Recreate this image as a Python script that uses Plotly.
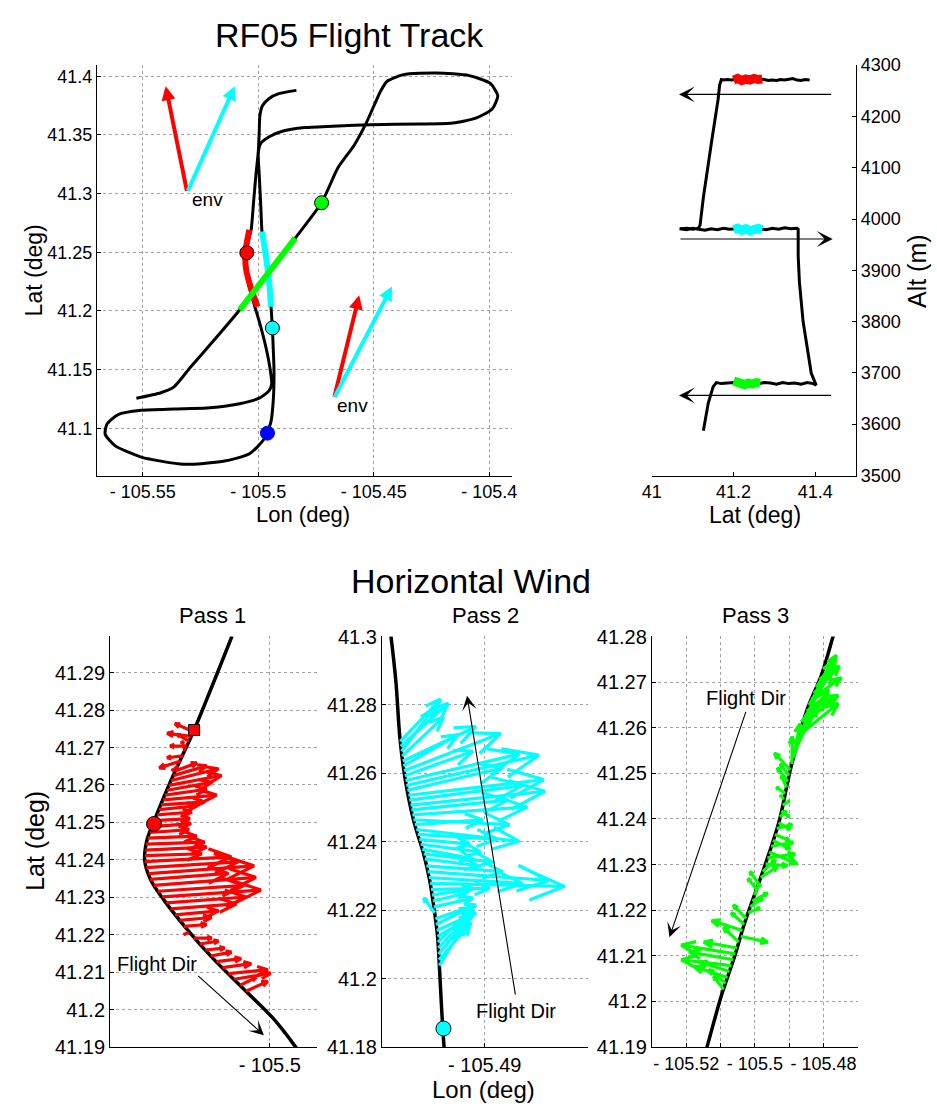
import numpy as np
import plotly.graph_objects as go
import plotly.figure_factory as ff

FONT = "Liberation Sans, Arial, Helvetica, sans-serif"
W, H = 937, 1115

# ---------------- flight track (map) ----------------
track_lon = [-105.4835, -105.4911, -105.4953, -105.4982, -105.4993, -105.4996, -105.5000, -105.5010, -105.5020,
             -105.5031, -105.5046, -105.5053, -105.5053, -105.5041, -105.5017, -105.4996, -105.4970, -105.4950,
             -105.4942, -105.4953, -105.4996, -105.5081, -105.5223, -105.5365, -105.5507, -105.5607, -105.5656,
             -105.5663, -105.5621, -105.5507, -105.5323, -105.5152, -105.5038, -105.4975, -105.4946, -105.4935,
             -105.4932, -105.4936, -105.4939, -105.4945, -105.4953, -105.4967, -105.4984, -105.4989, -105.4996,
             -105.5000, -105.4989, -105.4953, -105.4896, -105.4797, -105.4655, -105.4513, -105.4300, -105.4158,
             -105.4058, -105.3987, -105.3963, -105.3995, -105.4087, -105.4229, -105.4371, -105.4442, -105.4470,
             -105.4499, -105.4534, -105.4584, -105.4655, -105.4726, -105.4840, -105.4960, -105.5081, -105.5195,
             -105.5294, -105.5365, -105.5422, -105.5528]
track_lat = [41.3880, 41.3852, 41.3811, 41.3749, 41.3666, 41.3526, 41.3359, 41.3164, 41.2941, 41.2691, 41.2579,
             41.2496, 41.2356, 41.2217, 41.2050, 41.1911, 41.1716, 41.1520, 41.1381, 41.1320, 41.1256, 41.1209,
             41.1172, 41.1164, 41.1153, 41.1117, 41.1033, 41.0949, 41.0852, 41.0754, 41.0693, 41.0718, 41.0782,
             41.0908, 41.1047, 41.1242, 41.1493, 41.1716, 41.1855, 41.2036, 41.2245, 41.2468, 41.2677, 41.2886,
             41.3164, 41.3345, 41.3429, 41.3485, 41.3532, 41.3563, 41.3577, 41.3588, 41.3593, 41.3602, 41.3643,
             41.3721, 41.3833, 41.3939, 41.4006, 41.4028, 41.4014, 41.3958, 41.3875, 41.3749, 41.3596, 41.3415,
             41.3220, 41.2922, 41.2621, 41.2315, 41.2008, 41.1743, 41.1520, 41.1353, 41.1303, 41.1256]

seg_red_lon = [-105.5039, -105.5050, -105.5056, -105.5053, -105.5031, -105.5003]
seg_red_lat = [41.2691, 41.2579, 41.2496, 41.2356, 41.2189, 41.2036]
seg_cyan_lon = [-105.4984, -105.4967, -105.4953, -105.4945]
seg_cyan_lat = [41.2677, 41.2468, 41.2245, 41.2036]
seg_green_lon = [-105.4840, -105.4960, -105.5081]
seg_green_lat = [41.2621, 41.2315, 41.2008]

dot_lon = [-105.50497, -105.49389, -105.47259, -105.49602]
dot_lat = [41.2496, 41.18552, 41.2922, 41.09582]
dot_col = ["#FF0000", "#00FFFF", "#00FF00", "#0000FF"]

env_tail_lon = [-105.5308, -105.4672]
env_tail_lat = [41.3011, 41.1256]
env_red_lon = [-105.5401, -105.4563]
env_red_lat = [41.3916, 41.2133]
env_cyan_lon = [-105.5102, -105.4421]
env_cyan_lat = [41.3916, 41.2209]
env_text_lon = [-105.5297, -105.4669]
env_text_lat = [41.2947, 41.1195]

# ---------------- altitude profile ----------------
alt_lat = [41.386, 41.375, 41.365, 41.355, 41.345, 41.335, 41.325, 41.315, 41.305, 41.295, 41.285, 41.275, 41.265,
           41.255, 41.245, 41.235, 41.225, 41.215, 41.205, 41.195, 41.185, 41.175, 41.170,
           41.166, 41.162, 41.146, 41.132, 41.126, 41.118, 41.114,
           41.100, 41.085, 41.068,
           41.085, 41.100, 41.115, 41.130, 41.145, 41.160, 41.175, 41.190, 41.205, 41.220, 41.235, 41.250, 41.265,
           41.280, 41.295, 41.310, 41.325, 41.340, 41.355, 41.358,
           41.358, 41.361, 41.370, 41.382, 41.390, 41.402,
           41.395, 41.380, 41.365, 41.350, 41.335, 41.320, 41.305, 41.290, 41.275, 41.260, 41.245, 41.230, 41.215,
           41.200, 41.185, 41.170, 41.158,
           41.150, 41.138, 41.130, 41.126]
alt_m = [4271, 4272, 4270, 4271, 4274, 4273, 4271, 4272, 4270, 4271, 4270, 4272, 4273, 4272, 4274, 4272, 4273, 4271,
         4272, 4271, 4272, 4271, 4272,
         4262, 4233, 4150, 4074, 4042, 3988, 3982,
         3980, 3982, 3981,
         3979, 3982, 3980, 3978, 3981, 3979, 3982, 3980, 3981, 3979, 3982, 3980, 3981, 3979, 3982, 3980, 3983, 3981,
         3982, 3980,
         3928, 3877, 3800, 3737, 3699, 3676,
         3679, 3681, 3678, 3680, 3679, 3681, 3678, 3680, 3681, 3679, 3680, 3682, 3679, 3681, 3680, 3679, 3681,
         3673, 3641, 3609, 3587]
alt_pass_lat = [41.200, 41.210, 41.220, 41.230, 41.240, 41.250, 41.260, 41.270]
alt_red = [4271, 4274, 4270, 4273, 4271, 4274, 4272, 4273]
alt_cyan = [3979, 3982, 3978, 3981, 3977, 3980, 3982, 3979]
alt_green_lat = [41.200, 41.209, 41.218, 41.227, 41.236, 41.245, 41.255, 41.265]
alt_green = [3684, 3682, 3679, 3677, 3680, 3678, 3681, 3680]
alt_dir_alt = [4243, 3961, 3656]
alt_dir_from = [41.4424, 41.0664, 41.4424]
alt_dir_to = [41.0664, 41.4424, 41.0664]

# ---------------- pass 1 ----------------
p1_track_lon = [-105.50162, -105.50325, -105.50370, -105.50427, -105.50497, -105.50528, -105.50537, -105.50511,
                -105.50455, -105.50356, -105.50243, -105.50102, -105.49989, -105.49932, -105.49890, -105.49870]
p1_track_lat = [41.2998, 41.2747, 41.2686, 41.2608, 41.2503, 41.2451, 41.2398, 41.2346, 41.2293, 41.2215,
                41.2136, 41.2049, 41.1979, 41.1936, 41.1901, 41.1885]
p1_lat = [41.2743, 41.2730, 41.2717, 41.2704, 41.2691, 41.2678, 41.2664, 41.2651, 41.2638, 41.2625, 41.2612,
          41.2599, 41.2586, 41.2573, 41.2560, 41.2547, 41.2534, 41.2520, 41.2505, 41.2489, 41.2473, 41.2458,
          41.2442, 41.2426, 41.2411, 41.2395, 41.2379, 41.2363, 41.2348, 41.2332, 41.2316, 41.2301, 41.2285,
          41.2269, 41.2253, 41.2238, 41.2222, 41.2206, 41.2191, 41.2175, 41.2159, 41.2143, 41.2128, 41.2112,
          41.2096, 41.2081, 41.2065, 41.2049]
p1_lon = [-105.50330, -105.50339, -105.50347, -105.50356, -105.50364, -105.50373, -105.50383, -105.50394,
          -105.50404, -105.50414, -105.50424, -105.50433, -105.50441, -105.50450, -105.50458, -105.50467,
          -105.50475, -105.50484, -105.50494, -105.50504, -105.50514, -105.50525, -105.50532, -105.50534,
          -105.50536, -105.50537, -105.50530, -105.50521, -105.50514, -105.50498, -105.50480, -105.50462,
          -105.50445, -105.50426, -105.50407, -105.50388, -105.50369, -105.50347, -105.50326, -105.50301,
          -105.50277, -105.50254, -105.50229, -105.50203, -105.50178, -105.50153, -105.50127, -105.50102]
p1_u = [-0.000771, -0.001017, -0.000508, -0.000720, -0.000127, -0.000678, -0.000915, -0.000254, 0.000907, 0.001432,
        0.002034, 0.002254, 0.001915, 0.001788, 0.002296, 0.001873, 0.001619, 0.001491, 0.001508, 0.001652,
        0.001669, 0.002110, 0.002521, 0.002627, 0.002436, 0.003716, 0.003940, 0.004534, 0.003360, 0.004385,
        0.003699, 0.004237, 0.003432, 0.002818, 0.001864, 0.001377, 0.000975, -0.000212, 0.000763, 0.000805,
        0.000822, 0.000890, 0.001059, 0.001229, 0.001695, 0.001568, 0.000678, 0.000932]
p1_v = [0.00209, 0.00079, 0.00183, 0.0, 0.00262, -0.00052, -0.00183, -0.00131, 0.00209, 0.00262, 0.00314, 0.00262,
        0.00209, 0.00157, 0.00131, 0.00079, 0.00105, 0.00079, 0.00052, 0.00079, 0.00079, 0.00052, 0.00052, 0.00079,
        0.00052, 0.00131, 0.00157, 0.00209, 0.00157, 0.00209, 0.00157, 0.00183, 0.00157, 0.00131, 0.00105, 0.00079,
        0.00052, -0.00052, 0.0, 0.00079, 0.00052, 0.00105, 0.00079, 0.00105, 0.00105, 0.00157, 0.00209, 0.00262]
p1_circle = (-105.50497, 41.2496)
p1_square = (-105.50325, 41.2747)
p1_dir = dict(tail=(-105.50314, 41.20937), head=(-105.50025, 41.19314), text=(-105.50483, 41.21225))

# ---------------- pass 2 ----------------
p2_track_lon = [-105.49885, -105.49839, -105.49799, -105.49746, -105.49669, -105.49576, -105.49520, -105.49477,
                -105.49446, -105.49427, -105.49406, -105.49384, -105.49380]
p2_track_lat = [41.30009, 41.28703, 41.26984, 41.25741, 41.24596, 41.23642, 41.22877, 41.22018, 41.21256,
                41.20300, 41.19060, 41.18009, 41.1790]
p2_lat = [41.26936, 41.26792, 41.26649, 41.26506, 41.26363, 41.26220, 41.26076, 41.25933, 41.25790, 41.25647,
          41.25504, 41.25360, 41.25217, 41.25074, 41.24931, 41.24788, 41.24644, 41.24501, 41.24358, 41.24215,
          41.24072, 41.23928, 41.23785, 41.23642, 41.23499, 41.23298, 41.23127, 41.22955, 41.22783, 41.22611,
          41.22439, 41.22267, 41.22096, 41.21924, 41.21752, 41.21580, 41.21408, 41.21236, 41.21064, 41.20893,
          41.20721, 41.20549, 41.20377]
p2_lon = [-105.49797, -105.49792, -105.49785, -105.49779, -105.49773, -105.49767, -105.49762, -105.49754,
          -105.49748, -105.49740, -105.49730, -105.49721, -105.49712, -105.49701, -105.49692, -105.49683,
          -105.49673, -105.49661, -105.49646, -105.49632, -105.49618, -105.49604, -105.49590, -105.49576,
          -105.49566, -105.49551, -105.49539, -105.49527, -105.49516, -105.49507, -105.49498, -105.49489,
          -105.49480, -105.49473, -105.49466, -105.49460, -105.49452, -105.49446, -105.49442, -105.49438,
          -105.49436, -105.49432, -105.49428]
p2_u = [0.003790, 0.004478, 0.003019, 0.003893, 0.006893, 0.005165, 0.009104, 0.006429, 0.010730, 0.012504,
        0.008974, 0.012783, 0.010646, 0.012681, 0.009058, 0.010823, 0.009048, 0.006419, 0.009708, 0.007525,
        0.004784, 0.005667, 0.004784, 0.006503, 0.005007, 0.007181, 0.011427, 0.008798, 0.012681, 0.005537,
        0.003865, 0.003121, 0.003688, -0.001031, 0.003827, 0.003112, 0.003688, 0.003159, 0.003307, 0.003084,
        0.002871, 0.003019, 0.002425]
p2_v = [0.01232, 0.01260, 0.01232, 0.01146, 0.01002, 0.00916, 0.01088, 0.00716, 0.00773, 0.00888, 0.00659, 0.00458,
        0.00430, 0.00401, 0.00286, 0.00229, -0.00143, 0.00143, -0.00344, -0.00143, -0.00143, -0.00229, -0.00286,
        -0.00229, -0.00200, -0.00172, -0.00258, -0.00172, -0.00086, 0.00029, 0.00200, 0.00229, 0.00258, 0.00430,
        0.00401, 0.00487, 0.00516, 0.00544, 0.01002, 0.01031, 0.01060, 0.01088, 0.01260]
p2_circle = (-105.4939, 41.1854)
p2_dir = dict(tail=(-105.48709, 41.19489), head=(-105.49167, 41.28273), text=(-105.48709, 41.19060))

# ---------------- pass 3 ----------------
p3_track_lon = [-105.47650, -105.47723, -105.48057, -105.48486, -105.48963, -105.49294, -105.49723, -105.50294,
                -105.50580, -105.50963, -105.51391, -105.51430]
p3_track_lat = [41.2820, 41.28007, 41.27169, 41.26383, 41.25094, 41.23947, 41.22946, 41.21728, 41.21013,
                41.20153, 41.19006, 41.1890]
p3_lat = [41.26883, 41.26754, 41.26625, 41.26497, 41.26368, 41.26239, 41.26110, 41.25981, 41.25852, 41.25723,
          41.25594, 41.25465, 41.25337, 41.25208, 41.25079, 41.24950, 41.24821, 41.24692, 41.24563, 41.24434,
          41.24306, 41.24177, 41.24048, 41.23919, 41.23790, 41.23661, 41.23532, 41.23403, 41.23275, 41.23146,
          41.23017, 41.22845, 41.22716, 41.22587, 41.22458, 41.22329, 41.22201, 41.22072, 41.21943, 41.21814,
          41.21685, 41.21556, 41.21427, 41.21298, 41.21169, 41.21041, 41.20912, 41.20783, 41.20654, 41.20525,
          41.20396, 41.20267]
p3_lon = [-105.48214, -105.48283, -105.48354, -105.48423, -105.48492, -105.48540, -105.48586, -105.48634,
          -105.48683, -105.48729, -105.48777, -105.48826, -105.48872, -105.48920, -105.48969, -105.49006,
          -105.49043, -105.49080, -105.49117, -105.49154, -105.49192, -105.49229, -105.49266, -105.49306,
          -105.49363, -105.49417, -105.49472, -105.49526, -105.49583, -105.49637, -105.49692, -105.49772,
          -105.49832, -105.49892, -105.49952, -105.50012, -105.50072, -105.50134, -105.50194, -105.50254,
          -105.50312, -105.50363, -105.50414, -105.50466, -105.50517, -105.50569, -105.50626, -105.50683,
          -105.50740, -105.50797, -105.50854, -105.50911]
p3_u = [0.005857, 0.007400, 0.008685, 0.007371, 0.009200, 0.007685, 0.009571, 0.007771, 0.011114, 0.007571,
        0.005771, 0.003971, 0.001857, 0.000057, -0.004600, -0.002514, -0.003000, -0.001486, -0.002543, -0.001029,
        0.001914, 0.002286, 0.001800, 0.003343, 0.004485, 0.004171, 0.005000, 0.006400, 0.008114, 0.008085,
        0.006343, 0.003714, 0.004885, -0.002514, -0.002486, 0.001543, 0.004428, 0.003628, 0.003371, -0.003743,
        -0.003743, -0.008942, 0.007857, -0.004485, -0.009685, -0.015742, -0.012885, -0.014599, -0.008885,
        -0.009742, -0.004885, -0.002886]
p3_v = [0.007088, 0.006014, 0.004726, 0.009881, 0.003437, 0.010310, 0.005585, 0.008592, 0.006874, 0.009451,
        0.009022, 0.008592, 0.007518, 0.006014, 0.003652, 0.002578, 0.003007, 0.002578, 0.001289, 0.000859,
        0.000859, -0.001289, 0.001289, -0.001504, 0.000859, -0.001289, -0.001933, 0.000859, -0.002578, 0.000859,
        -0.000430, 0.002578, 0.002363, 0.002578, 0.002363, 0.002578, 0.001718, 0.001933, 0.001074, 0.003007,
        0.002578, 0.002148, -0.001289, 0.003222, 0.001289, 0.001933, 0.001718, 0.001289, 0.002148, 0.002363,
        0.003007, 0.002792]
p3_dir = dict(tail=(-105.50249, 41.26383), head=(-105.52486, 41.21406), text=(-105.50249, 41.26654))

# ---------------- axis ticks ----------------
map_xt = [-105.55, -105.5, -105.45, -105.4]
map_xl = ["- 105.55", "- 105.5", "- 105.45", "- 105.4"]
map_yt = [41.1, 41.15, 41.2, 41.25, 41.3, 41.35, 41.4]
map_yl = ["41.1", "41.15", "41.2", "41.25", "41.3", "41.35", "41.4"]
alt_xt = [41, 41.2, 41.4]
alt_xl = ["41", "41.2", "41.4"]
alt_yt = [3500, 3600, 3700, 3800, 3900, 4000, 4100, 4200, 4300]
p1_yt = [41.19, 41.20, 41.21, 41.22, 41.23, 41.24, 41.25, 41.26, 41.27, 41.28, 41.29]
p1_yl = ["41.19", "41.2", "41.21", "41.22", "41.23", "41.24", "41.25", "41.26", "41.27", "41.28", "41.29"]
p2_yt = [41.18, 41.20, 41.22, 41.24, 41.26, 41.28, 41.30]
p2_yl = ["41.18", "41.2", "41.22", "41.24", "41.26", "41.28", "41.3"]
p3_yt = [41.19, 41.20, 41.21, 41.22, 41.23, 41.24, 41.25, 41.26, 41.27, 41.28]
p3_yl = ["41.19", "41.2", "41.21", "41.22", "41.23", "41.24", "41.25", "41.26", "41.27", "41.28"]
p3_xt = [-105.52, -105.51, -105.50, -105.49, -105.48]
p3_xl = ["- 105.52", "", "- 105.5", "", "- 105.48"]

# ---------------- layout geometry (pixels) ----------------
MAP_X = (88.3, 510.0); MAP_Y = (55, 474)
ALT_X = (652.3, 860.0)
P1_X = (101.7, 312.0); P2_X = (378.0, 587.0); P3_X = (652.3, 861.7); P_Y = (638, 1057)
MAP_XR = [-105.5699, -105.3902]; MAP_YR = [41.0596, 41.4097]
ALT_XR = [41.0, 41.5]; ALT_YR = [3499.5, 4300.5]
P1_XR = [-105.50686, -105.49797]; P1_YR = [41.18995, 41.2997]
P2_XR = [-105.4997, -105.4803]; P2_YR = [41.17995, 41.30005]
P3_XR = [-105.53, -105.47]; P3_YR = [41.18995, 41.28005]


def dx(px):
    return [px[0] / W, px[1] / W]


def dy(py):
    return [1 - py[1] / H, 1 - py[0] / H]


fig = go.Figure()

# map
fig.add_trace(go.Scatter(x=track_lon, y=track_lat, mode="lines", line=dict(color="black", width=3, shape="spline", smoothing=0.6),
                         xaxis="x", yaxis="y", hoverinfo="skip"))
for lo, la, c in [(seg_red_lon, seg_red_lat, "#FF0000"), (seg_cyan_lon, seg_cyan_lat, "#00FFFF"),
                  (seg_green_lon, seg_green_lat, "#00FF00")]:
    fig.add_trace(go.Scatter(x=lo, y=la, mode="lines", line=dict(color=c, width=6, shape="spline"),
                             xaxis="x", yaxis="y", hoverinfo="skip"))
fig.add_trace(go.Scatter(x=dot_lon, y=dot_lat, mode="markers",
                         marker=dict(size=14, color=dot_col, line=dict(color=["black", "black", "black", "#0000FF"], width=1)),
                         xaxis="x", yaxis="y", hoverinfo="skip"))

# altitude
fig.add_trace(go.Scatter(x=alt_lat, y=alt_m, mode="lines", line=dict(color="black", width=3),
                         xaxis="x2", yaxis="y2", hoverinfo="skip"))
for la, al, c in [(alt_pass_lat, alt_red, "#FF0000"), (alt_pass_lat, alt_cyan, "#00FFFF"), (alt_green_lat, alt_green, "#00FF00")]:
    fig.add_trace(go.Scatter(x=la, y=al, mode="lines", line=dict(color=c, width=9),
                             xaxis="x2", yaxis="y2", hoverinfo="skip"))


def quiver(x, y, u, v, xa, ya, color, xpx, ypx, xr, yr):
    # ratio of x data-units per pixel to y data-units per pixel (for correct arrowhead shape)
    sr = ((xr[1] - xr[0]) / (xpx[1] - xpx[0])) / ((yr[1] - yr[0]) / (ypx[1] - ypx[0]))
    # create_quiver multiplies u by scaleratio, so pass u / sr to keep true data lengths
    q = ff.create_quiver(x, y, [ui / sr for ui in u], v, scale=1, arrow_scale=0.28, angle=np.pi / 8, scaleratio=sr)
    t = q.data[0]
    return go.Scatter(x=t.x, y=t.y, mode="lines", line=dict(color=color, width=3.2),
                      xaxis=xa, yaxis=ya, hoverinfo="skip")


# pass 1
fig.add_trace(go.Scatter(x=p1_track_lon, y=p1_track_lat, mode="lines", line=dict(color="black", width=3.5, shape="spline"),
                         xaxis="x3", yaxis="y3", hoverinfo="skip"))
fig.add_trace(quiver(p1_lon, p1_lat, p1_u, p1_v, "x3", "y3", "#FF0000", P1_X, P_Y, P1_XR, P1_YR))
fig.add_trace(go.Scatter(x=[p1_circle[0]], y=[p1_circle[1]], mode="markers",
                         marker=dict(size=15, color="#FF0000", line=dict(color="black", width=1)),
                         xaxis="x3", yaxis="y3", hoverinfo="skip"))
fig.add_trace(go.Scatter(x=[p1_square[0]], y=[p1_square[1]], mode="markers",
                         marker=dict(size=11, symbol="square", color="#FF0000", line=dict(color="black", width=1)),
                         xaxis="x3", yaxis="y3", hoverinfo="skip"))
# pass 2
fig.add_trace(go.Scatter(x=p2_track_lon, y=p2_track_lat, mode="lines", line=dict(color="black", width=3.5, shape="spline"),
                         xaxis="x4", yaxis="y4", hoverinfo="skip"))
fig.add_trace(quiver(p2_lon, p2_lat, p2_u, p2_v, "x4", "y4", "#00FFFF", P2_X, P_Y, P2_XR, P2_YR))
fig.add_trace(go.Scatter(x=[p2_circle[0]], y=[p2_circle[1]], mode="markers",
                         marker=dict(size=15, color="#00FFFF", line=dict(color="black", width=1)),
                         xaxis="x4", yaxis="y4", hoverinfo="skip"))
# pass 3
fig.add_trace(go.Scatter(x=p3_track_lon, y=p3_track_lat, mode="lines", line=dict(color="black", width=3.5, shape="spline"),
                         xaxis="x5", yaxis="y5", hoverinfo="skip"))
fig.add_trace(quiver(p3_lon, p3_lat, p3_u, p3_v, "x5", "y5", "#00FF00", P3_X, P_Y, P3_XR, P3_YR))

ann = []


def arrow(xr, yr, tail, head, color, width, size, headtype):
    ann.append(dict(x=head[0], y=head[1], ax=tail[0], ay=tail[1], xref=xr, yref=yr, axref=xr, ayref=yr,
                    text="", showarrow=True, arrowhead=headtype, arrowsize=size, arrowwidth=width,
                    arrowcolor=color, standoff=0, startstandoff=0))


def text(xr, yr, x, y, s, size, xanchor="center", yanchor="middle", angle=0):
    ann.append(dict(x=x, y=y, xref=xr, yref=yr, text=s, showarrow=False, xanchor=xanchor, yanchor=yanchor,
                    textangle=angle, font=dict(family=FONT, size=size, color="black")))


for i in range(2):
    arrow("x", "y", (env_tail_lon[i], env_tail_lat[i]), (env_red_lon[i], env_red_lat[i]), "#FF0000", 4, 0.7, 2)
    arrow("x", "y", (env_tail_lon[i], env_tail_lat[i]), (env_cyan_lon[i], env_cyan_lat[i]), "#00FFFF", 4, 0.7, 2)
    text("x", "y", env_text_lon[i], env_text_lat[i], "env", 19, xanchor="left")

for a, f, t in zip(alt_dir_alt, alt_dir_from, alt_dir_to):
    arrow("x2", "y2", (f, a), (t, a), "black", 1.2, 2.2, 3)

for xr, yr, d in [("x3", "y3", p1_dir), ("x4", "y4", p2_dir), ("x5", "y5", p3_dir)]:
    arrow(xr, yr, d["tail"], d["head"], "black", 1.1, 2.2, 3)
    text(xr, yr, d["text"][0], d["text"][1], "Flight Dir", 20)

# titles and axis labels (paper coords)
text("paper", "paper", 345 / W, 1 - 24 / H, "RF05 Flight Track", 34)
text("paper", "paper", 468 / W, 1 - 581 / H, "Horizontal Wind", 34)
text("paper", "paper", 206 / W, 1 - 617 / H, "Pass 1", 22)
text("paper", "paper", 483 / W, 1 - 617 / H, "Pass 2", 22)
text("paper", "paper", 758 / W, 1 - 617 / H, "Pass 3", 22)
text("paper", "paper", 298 / W, 1 - 514 / H, "Lon (deg)", 22)
text("paper", "paper", 24 / W, 1 - 265 / H, "Lat (deg)", 23, angle=-90)
text("paper", "paper", 757 / W, 1 - 514 / H, "Lat (deg)", 23)
text("paper", "paper", 922 / W, 1 - 265 / H, "Alt (m)", 25, angle=-90)
text("paper", "paper", 26 / W, 1 - 847 / H, "Lat (deg)", 25, angle=-90)
text("paper", "paper", 481 / W, 1 - 1100 / H, "Lon (deg)", 24)

GRID = dict(showgrid=True, gridcolor="#a0a0a0", griddash="dot", gridwidth=1)
BASE = dict(showline=True, linecolor="black", linewidth=1, ticks="inside", ticklen=4, tickcolor="black",
            zeroline=False, mirror=False, tickfont=dict(family=FONT, size=18, color="black"), fixedrange=True)
BASE_B = dict(BASE, tickfont=dict(family=FONT, size=20, color="black"))

fig.update_layout(
    width=W, height=H, margin=dict(l=0, r=0, t=0, b=0), paper_bgcolor="white", plot_bgcolor="white",
    showlegend=False, annotations=ann, font=dict(family=FONT, color="black"),
    xaxis=dict(BASE, **GRID, domain=dx(MAP_X), range=MAP_XR, tickvals=map_xt, ticktext=map_xl, anchor="y", tickangle=0),
    yaxis=dict(BASE, **GRID, domain=dy(MAP_Y), range=MAP_YR, tickvals=map_yt, ticktext=map_yl, anchor="x"),
    xaxis2=dict(BASE, showgrid=False, domain=dx(ALT_X), range=ALT_XR, tickvals=alt_xt, ticktext=alt_xl, anchor="y2", tickangle=0),
    yaxis2=dict(BASE, showgrid=False, domain=dy(MAP_Y), range=ALT_YR, tickvals=alt_yt, side="right", anchor="x2"),
    xaxis3=dict(BASE_B, **GRID, domain=dx(P1_X), range=P1_XR, tickvals=[-105.5], ticktext=["- 105.5"], anchor="y3", tickangle=0),
    yaxis3=dict(BASE_B, **GRID, domain=dy(P_Y), range=P1_YR, tickvals=p1_yt, ticktext=p1_yl, anchor="x3"),
    xaxis4=dict(BASE_B, **GRID, domain=dx(P2_X), range=P2_XR, tickvals=[-105.49], ticktext=["- 105.49"], anchor="y4", tickangle=0),
    yaxis4=dict(BASE_B, **GRID, domain=dy(P_Y), range=P2_YR, tickvals=p2_yt, ticktext=p2_yl, anchor="x4"),
    xaxis5=dict(BASE_B, **GRID, domain=dx(P3_X), range=P3_XR, tickvals=p3_xt, ticktext=p3_xl, anchor="y5",
                tickangle=0, tickfont=dict(family=FONT, size=18, color="black")),
    yaxis5=dict(BASE_B, **GRID, domain=dy(P_Y), range=P3_YR, tickvals=p3_yt, ticktext=p3_yl, anchor="x5"),
)

fig.write_html("out.html")
